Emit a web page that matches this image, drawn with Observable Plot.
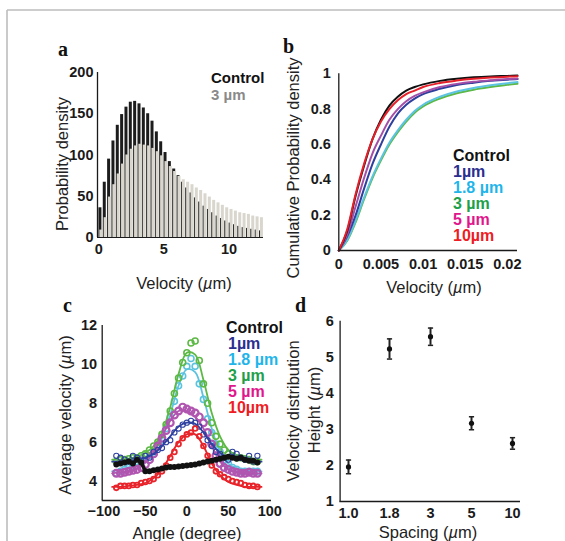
<!DOCTYPE html>
<html><head><meta charset="utf-8">
<script src="https://cdn.jsdelivr.net/npm/d3@7"></script>
<script src="https://cdn.jsdelivr.net/npm/@observablehq/plot@0.6"></script>
<style>
body{margin:0;background:#fff;}
#fig{position:relative;width:565px;height:541px;overflow:hidden;background:#fff;}
.panel{position:absolute;}
</style></head>
<body><div id="fig"></div>
<script>
// ---------- Panel a: velocity histograms ----------
const binStart = [0,0.333,0.667,1,1.333,1.667,2,2.333,2.667,3,3.333,3.667,4,4.333,4.667,5,5.333,5.667,6,6.333,6.667,7,7.333,7.667,8,8.333,8.667,9,9.333,9.667,10,10.333,10.667,11,11.333,11.667,12,12.333];
const controlDensity = [36,67,95,117,136,149,158,164,165,162,157,150,141,128,116,103,92,83,75,67,60,54,48,43,38,34,30,26,23,20,17.5,15.5,13.5,12,11,10,9,8];
const spacing3Density = [9,24,49,64,77,89,100,107,111,113,112,111,108,104,99,92,86,80,74,70,67,64,60,57,53,49,45,42,39,36,34,32,30,29,28,26,25,24];
const histLegend = ["Control", "3 µm"];
const ticksA_x = [0, 5, 10];
const ticksA_y = [0, 50, 100, 150, 200];

// ---------- Panel b: cumulative distributions ----------
const cdfVelocity = [0,0.001,0.002,0.003,0.004,0.005,0.006,0.007,0.008,0.009,0.010,0.012,0.014,0.016,0.018,0.020,0.0212];
const cdfControl = [0,0.11,0.31,0.48,0.63,0.74,0.82,0.87,0.905,0.925,0.94,0.96,0.972,0.98,0.985,0.988,0.99];
const cdf1um     = [0,0.08,0.20,0.35,0.49,0.60,0.70,0.775,0.825,0.86,0.885,0.915,0.937,0.95,0.96,0.967,0.97];
const cdf18um    = [0,0.06,0.17,0.30,0.42,0.52,0.61,0.68,0.74,0.79,0.825,0.87,0.90,0.92,0.935,0.947,0.953];
const cdf3um     = [0,0.055,0.16,0.29,0.41,0.51,0.60,0.67,0.73,0.78,0.815,0.86,0.89,0.91,0.925,0.938,0.944];
const cdf5um     = [0,0.09,0.25,0.41,0.55,0.65,0.74,0.80,0.845,0.875,0.895,0.925,0.943,0.955,0.963,0.97,0.973];
const cdf10um    = [0,0.12,0.32,0.49,0.63,0.73,0.80,0.85,0.885,0.905,0.925,0.948,0.962,0.972,0.979,0.984,0.986];
const ticksB_x = [0, 0.005, 0.01, 0.015, 0.02];
const ticksB_y = [0, 0.2, 0.4, 0.6, 0.8, 1];

const seriesLabels = ["Control","1µm","1.8 µm","3 µm","5 µm","10µm"];
const legendColors = ["#111111","#2b2e8f","#1fb5ea","#1ea04a","#e0178c","#ee1c25"];

// ---------- Panel c: average velocity vs angle ----------
const angleDeg = [-85,-80,-75,-70,-65,-60,-55,-50,-45,-40,-35,-30,-25,-20,-15,-10,-5,0,5,10,15,20,25,30,35,40,45,50,55,60,65,70,75,80,85];
const velControl = [4.85,4.9,4.95,5.0,4.9,5.1,4.95,4.5,4.5,4.55,4.6,4.65,4.7,4.72,4.72,4.75,4.78,4.8,4.82,4.85,4.9,4.95,5.0,5.05,5.1,5.15,5.2,5.25,5.2,5.15,5.2,5.1,5.05,5.05,4.95];
const vel1um  = [5.3,5.2,5.1,5.0,5.3,5.2,5.1,5.3,5.2,5.5,5.6,5.7,6.0,6.1,6.5,6.7,6.9,7.0,7.1,7.0,6.8,6.4,6.1,5.8,5.5,5.4,5.2,5.1,5.5,5.4,5.2,5.1,5.3,5.0,5.3];
const vel18um = [4.4,4.5,4.6,4.7,4.8,4.9,5.0,5.1,5.3,5.5,5.8,6.1,6.7,7.3,8.1,8.9,9.4,9.9,10.3,9.9,9.0,8.2,7.2,6.5,5.9,5.5,5.1,4.9,4.7,4.6,4.5,4.5,4.5,4.5,4.5];
const vel3um  = [5.0,5.1,5.1,5.15,5.2,5.2,5.3,5.4,5.6,5.8,6.0,6.4,6.9,7.6,8.5,9.3,10.1,10.6,11.1,11.2,10.2,9.0,8.0,7.0,6.3,5.9,5.6,5.4,5.3,5.2,5.2,5.15,5.1,5.0,5.0];
const vel5um  = [4.4,4.4,4.45,4.5,4.55,4.6,4.7,4.85,5.1,5.4,5.8,6.2,6.6,7.0,7.4,7.6,7.8,7.7,7.6,7.5,7.3,7.0,6.5,5.9,5.3,4.9,4.7,4.6,4.5,4.45,4.4,4.4,4.45,4.4,4.4];
const vel10um = [3.65,3.75,3.75,3.75,3.8,3.8,3.9,3.95,4.0,4.1,4.3,4.5,4.8,5.2,5.5,5.9,6.2,6.4,6.5,6.7,6.3,5.8,5.3,4.8,4.5,4.35,4.2,4.1,4.0,3.95,3.9,3.8,3.75,3.75,3.7];
const fitAngle = [-90,-80,-70,-60,-50,-40,-30,-20,-10,0,10,20,30,40,50,60,70,80,90];
const fit1um  = [5.0,5.0,5.05,5.1,5.2,5.4,5.8,6.3,6.8,7.0,6.95,6.5,5.9,5.45,5.2,5.1,5.05,5.0,5.0];
const fit18um = [4.5,4.6,4.7,4.85,5.1,5.5,6.2,7.4,8.9,9.75,9.6,8.3,6.7,5.5,4.9,4.65,4.55,4.5,4.5];
const fit3um  = [5.1,5.1,5.15,5.25,5.45,5.8,6.5,7.8,9.5,10.6,10.5,9.2,7.5,6.3,5.6,5.3,5.15,5.1,5.1];
const fit5um  = [4.4,4.45,4.5,4.65,4.95,5.5,6.3,7.1,7.6,7.6,7.3,6.7,5.8,5.0,4.6,4.45,4.4,4.4,4.4];
const fit10um = [3.7,3.7,3.75,3.8,3.9,4.15,4.6,5.3,6.0,6.4,6.4,5.8,4.9,4.3,3.95,3.8,3.7,3.7,3.7];
const ticksC_x = [-100, -50, 0, 50, 100];
const ticksC_y = [4, 6, 8, 10, 12];

// ---------- Panel d: distribution height vs spacing ----------
const spacingLabels = ["1.0","1.8","3","5","10"];
const heightMean = [1.96,5.23,5.57,3.17,2.61];
const heightErr  = [0.19,0.28,0.24,0.18,0.16];
const ticksD_y = [1, 2, 3, 4, 5, 6];

// ================= drawing =================
const fig = document.getElementById("fig");
const FONT = '"Liberation Sans", Arial, Helvetica, sans-serif';
const baseStyle = {fontFamily: FONT, fontSize: "14.5px", fontWeight: "bold", color: "#1a1a1a", background: "transparent", overflow: "visible"};
function place(svg, left, top) {
  const d = document.createElement("div");
  d.className = "panel"; d.style.left = left + "px"; d.style.top = top + "px";
  d.appendChild(svg); fig.appendChild(d);
}
const AX = "#1a1a1a";
const plain = d => String(d);

// Panel a
const tableA = binStart.map((b, i) => ({b, c: controlDensity[i], s: spacing3Density[i]}));
place(Plot.plot({
  width: 240, height: 230, marginLeft: 57, marginRight: 17, marginTop: 32, marginBottom: 33,
  style: baseStyle,
  x: {domain: [-0.1, 12.65], label: null},
  y: {domain: [0, 200], label: null},
  marks: [
    Plot.rect(tableA, {x1: d => d.b + 0.01, x2: d => d.b + 0.24, y1: 0, y2: "c", fill: "#1c1c1c"}),
    Plot.rect(tableA, {x1: d => d.b + 0.08, x2: d => d.b + 0.31, y1: 0, y2: "s", fill: "#d9d6cd"}),
    Plot.ruleY([0], {stroke: AX, strokeWidth: 1.2}),
    Plot.ruleX([-0.1], {stroke: AX, strokeWidth: 1.3}),
    Plot.axisX({ticks: ticksA_x, tickFormat: plain, tickSize: 0, tickPadding: 6, label: null}),
    Plot.axisY({ticks: ticksA_y, tickFormat: plain, tickSize: 0, tickPadding: 4, label: null})
  ]
}), 40, 40);

// Panel b
const cdfSeries = [
  {values: cdf3um, color: "#5cb947"},
  {values: cdf18um, color: "#5dc3e2"},
  {values: cdf1um, color: "#2f3f9e"},
  {values: cdf5um, color: "#a34fa8"},
  {values: cdfControl, color: "#111111"},
  {values: cdf10um, color: "#e5202a"}
];
place(Plot.plot({
  width: 280, height: 245, marginLeft: 58.3, marginRight: 43, marginTop: 33.3, marginBottom: 35,
  style: baseStyle,
  x: {domain: [0, 0.0212], label: null},
  y: {domain: [0, 1], label: null},
  marks: [
    ...cdfSeries.map(s => Plot.line(cdfVelocity.map((v, i) => ({v, p: s.values[i]})),
      {x: "v", y: "p", stroke: s.color, strokeWidth: 2, curve: "monotone-x"})),
    Plot.ruleY([0], {stroke: AX, strokeWidth: 1.3}),
    Plot.ruleX([0], {stroke: AX, strokeWidth: 1.3}),
    Plot.axisX({ticks: ticksB_x, tickFormat: plain, tickSize: 0, tickPadding: 8, label: null}),
    Plot.axisY({ticks: ticksB_y, tickFormat: plain, tickSize: 0, tickPadding: 8, label: null})
  ]
}), 280, 40);

// Panel c
const cSeries = [
  {pts: vel18um, fit: fit18um, color: "#5cc3df", r: 3, sw: 1.6},
  {pts: vel3um, fit: fit3um, color: "#5db945", r: 3, sw: 1.6},
  {pts: vel5um, fit: fit5um, color: "#b055b0", r: 3.4, sw: 2.2},
  {pts: vel1um, fit: fit1um, color: "#2f40a0", r: 2.6, sw: 1.1},
  {pts: vel10um, fit: fit10um, color: "#e8242b", r: 2.4, sw: 1.8}
];
const rowsC = vals => angleDeg.map((a, i) => ({a, v: vals[i]}));
const rowsFit = vals => fitAngle.map((a, i) => ({a, v: vals[i]}));
place(Plot.plot({
  width: 250, height: 225, marginLeft: 61.7, marginRight: 19, marginTop: 25, marginBottom: 25,
  style: baseStyle,
  x: {domain: [-102, 102], label: null},
  y: {domain: [3, 12], label: null},
  marks: [
    ...cSeries.flatMap(s => [
      Plot.line(rowsFit(s.fit), {x: "a", y: "v", stroke: s.color, strokeWidth: 1.8, curve: "catmull-rom"}),
      Plot.dot(rowsC(s.pts), {x: "a", y: "v", r: s.r, stroke: s.color, strokeWidth: s.sw, fill: "none"})
    ]),
    Plot.line(rowsC(velControl), {x: "a", y: "v", stroke: "#111", strokeWidth: 3.5}),
    Plot.dot(rowsC(velControl), {x: "a", y: "v", r: 3, fill: "#111"}),
    Plot.ruleY([3], {stroke: AX, strokeWidth: 1.3}),
    Plot.ruleX([-102], {stroke: AX, strokeWidth: 1.3}),
    Plot.axisX({ticks: ticksC_x, tickFormat: d => d < 0 ? "\u2212" + Math.abs(d) : String(d), tickSize: 0, tickPadding: 5, label: null}),
    Plot.axisY({ticks: ticksC_y, tickFormat: plain, tickSize: 0, tickPadding: 5, label: null})
  ]
}), 40, 300);

// Panel d
const tableD = spacingLabels.map((s, i) => ({s, h: heightMean[i], e: heightErr[i]}));
const capSymbol = {draw(ctx) { ctx.moveTo(-2.6, 0); ctx.lineTo(2.6, 0); }};
place(Plot.plot({
  width: 280, height: 230, marginLeft: 59.3, marginRight: 40, marginTop: 20.7, marginBottom: 29,
  style: baseStyle,
  x: {type: "point", domain: spacingLabels, padding: 0.2, label: null},
  y: {domain: [1, 6], label: null},
  marks: [
    Plot.ruleX(tableD, {x: "s", y1: d => d.h - d.e, y2: d => d.h + d.e, stroke: "#222", strokeWidth: 2}),
    Plot.dot(tableD, {x: "s", y: d => d.h + d.e, symbol: capSymbol, fill: "none", stroke: "#222", strokeWidth: 1.5}),
    Plot.dot(tableD, {x: "s", y: d => d.h - d.e, symbol: capSymbol, fill: "none", stroke: "#222", strokeWidth: 1.5}),
    Plot.dot(tableD, {x: "s", y: "h", r: 2.6, fill: "#111"}),
    Plot.ruleY([1], {stroke: AX, strokeWidth: 1.3}),
    Plot.ruleX([spacingLabels[0]], {dx: -8.4, stroke: AX, strokeWidth: 1.3}),
    Plot.axisX({tickSize: 0, tickPadding: 6, label: null}),
    Plot.axisY({ticks: ticksD_y, tickFormat: plain, tickSize: 0, tickPadding: 6, label: null})
  ]
}), 280, 300);

// Overlay: frame, panel letters, axis titles, legends
const um = `(<tspan font-style="italic">\u00b5</tspan>m)`;
const legB = seriesLabels.map((t, i) => `<text x="453" y="${160.5 + i * 16}" fill="${legendColors[i]}">${t}</text>`).join("");
const legC = seriesLabels.map((t, i) => `<text x="${i === 0 ? 226 : 228}" y="${333 + i * 16}" fill="${legendColors[i]}">${t}</text>`).join("");
const overlay = `<svg xmlns="http://www.w3.org/2000/svg" width="565" height="541" style="position:absolute;left:0;top:0" font-family='${FONT}'>
<line x1="7" y1="10" x2="565" y2="10" stroke="#bdbdbd" stroke-width="1.6"/>
<line x1="7" y1="10" x2="7" y2="541" stroke="#bdbdbd" stroke-width="1.6"/>
<g font-family='"Liberation Serif", "Times New Roman", serif' font-weight="bold" font-size="20" fill="#111">
<text x="58" y="56">a</text><text x="283" y="53">b</text><text x="63" y="312">c</text><text x="295" y="312">d</text>
</g>
<g font-size="16.5" fill="#222" text-anchor="middle" dominant-baseline="central">
<text x="184" y="283">Velocity ${um}</text>
<text transform="translate(62,164) rotate(-90)">Probability density</text>
<text x="434" y="287">Velocity ${um}</text>
<text transform="translate(293,168) rotate(-90)">Cumulative Probability density</text>
<text x="187" y="533">Angle (degree)</text>
<text transform="translate(65,415) rotate(-90)">Average velocity ${um}</text>
<text x="428" y="532">Spacing ${um}</text>
<text transform="translate(293,411) rotate(-90)">Velocity distribution</text>
<text transform="translate(314,410) rotate(-90)">Height ${um}</text>
</g>
<g font-size="15" font-weight="bold">
<text x="211" y="83" fill="#111">${histLegend[0]}</text>
<text x="211" y="100" fill="#8a8a8a">${histLegend[1]}</text>
</g>
<g font-size="16" font-weight="bold">${legB}${legC}</g>
</svg>`;
fig.insertAdjacentHTML("beforeend", overlay);
</script>
</body></html>
